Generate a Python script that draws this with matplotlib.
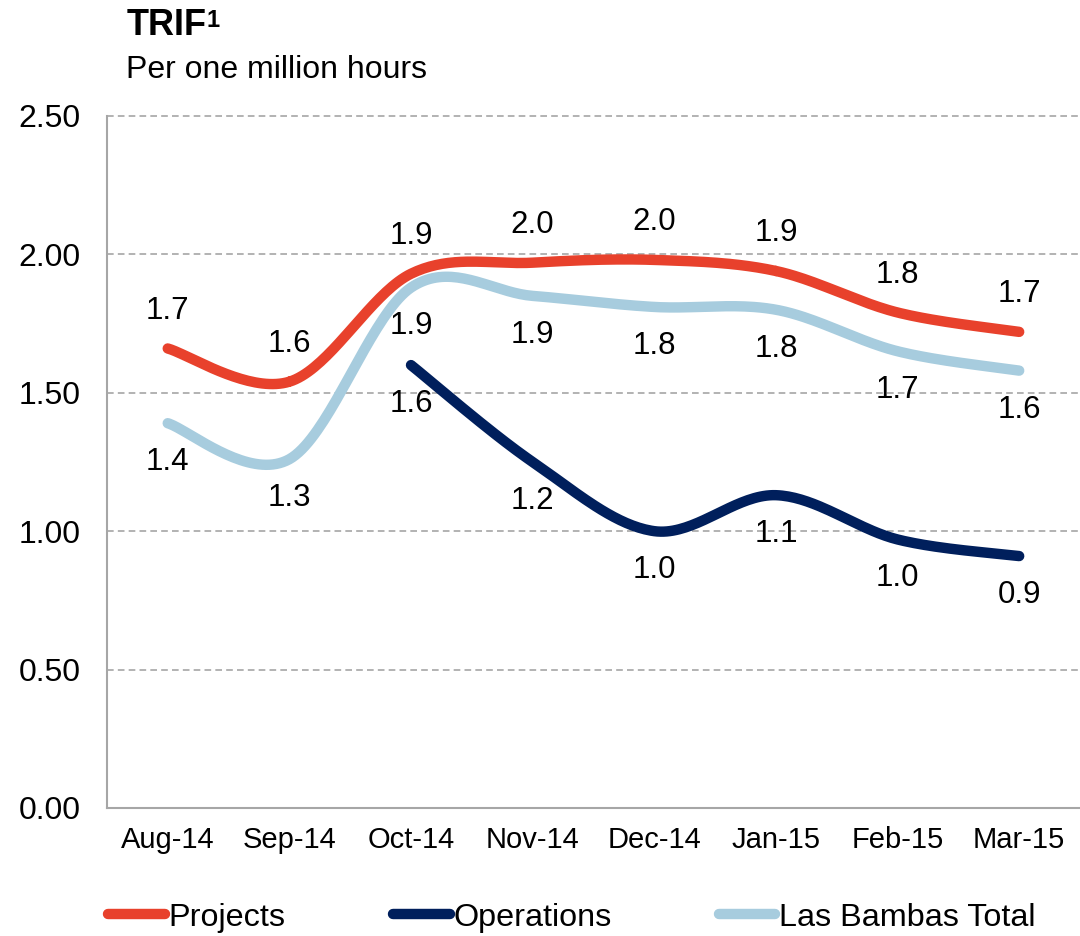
import numpy as np
import matplotlib.pyplot as plt

plt.rcParams['font.family'] = ['Liberation Sans', 'DejaVu Sans']

# Daten
monate = ['Aug-14', 'Sep-14', 'Oct-14', 'Nov-14', 'Dec-14', 'Jan-15', 'Feb-15', 'Mar-15']
projects = [1.66, 1.54, 1.93, 1.97, 1.98, 1.94, 1.79, 1.72]
operations = [None, None, 1.60, 1.25, 1.00, 1.13, 0.97, 0.91]
las_bambas = [1.39, 1.26, 1.88, 1.85, 1.81, 1.80, 1.65, 1.58]

proj_labels = ['1.7', '1.6', '1.9', '2.0', '2.0', '1.9', '1.8', '1.7']
oper_labels = [None, None, '1.6', '1.2', '1.0', '1.1', '1.0', '0.9']
lb_labels = ['1.4', '1.3', '1.9', '1.9', '1.8', '1.8', '1.7', '1.6']

rot = '#E8412C'
navy = '#001F5C'
hellblau = '#A7CCDE'


def glatt(xs, ys, n=40):
    # Catmull-Rom Glaettung wie in Excel
    xs = np.asarray(xs, float)
    ys = np.asarray(ys, float)
    px = np.concatenate([[xs[0]], xs, [xs[-1]]])
    py = np.concatenate([[ys[0]], ys, [ys[-1]]])
    outx, outy = [], []
    t = np.linspace(0, 1, n)
    for i in range(1, len(px) - 2):
        p0, p1, p2, p3 = py[i - 1], py[i], py[i + 1], py[i + 2]
        q0, q1, q2, q3 = px[i - 1], px[i], px[i + 1], px[i + 2]
        fy = 0.5 * (2 * p1 + (-p0 + p2) * t + (2 * p0 - 5 * p1 + 4 * p2 - p3) * t**2
                    + (-p0 + 3 * p1 - 3 * p2 + p3) * t**3)
        fx = 0.5 * (2 * q1 + (-q0 + q2) * t + (2 * q0 - 5 * q1 + 4 * q2 - q3) * t**2
                    + (-q0 + 3 * q1 - 3 * q2 + q3) * t**3)
        outx.extend(fx)
        outy.extend(fy)
    return np.array(outx), np.array(outy)


fig = plt.figure(figsize=(10.8, 9.36), dpi=100)
ax = fig.add_axes([0.099, 0.1368, 0.901, 0.7393])

x = np.arange(len(monate))

serien = [
    (projects, proj_labels, rot, 'Projects', 27),
    (operations, oper_labels, navy, 'Operations', -28),
    (las_bambas, lb_labels, hellblau, 'Las Bambas Total', -28),
]

for werte, labels, farbe, name, versatz in serien:
    xi = [i for i, v in zip(x, werte) if v is not None]
    yi = [v for v in werte if v is not None]
    gx, gy = glatt(xi, yi)
    ax.plot(gx, gy, color=farbe, lw=7.5, solid_capstyle='round', label=name, zorder=3)
    for i, v, lab in zip(x, werte, labels):
        if v is None:
            continue
        ax.annotate(lab, (i, v), xytext=(0, versatz), textcoords='offset points',
                    ha='center', va='center', fontsize=22.5, color='black')

ax.set_xlim(-0.5, 7.5)
ax.set_ylim(0, 2.5)
ax.set_xticks(x)
ax.set_xticklabels(monate, fontsize=21)
ax.set_yticks(np.arange(0, 2.51, 0.5))
ax.set_yticklabels(['%.2f' % v for v in np.arange(0, 2.51, 0.5)], fontsize=23)
ax.tick_params(length=0, axis='y', pad=19)
ax.tick_params(length=0, axis='x', pad=13)

for y in [0.5, 1.0, 1.5, 2.0, 2.5]:
    ax.axhline(y, color='#A6A6A6', lw=1.2, ls=(0, (4, 2.5)), zorder=1, clip_on=False)

for s in ['top', 'right']:
    ax.spines[s].set_visible(False)
for s in ['left', 'bottom']:
    ax.spines[s].set_color('#A6A6A6')
    ax.spines[s].set_linewidth(1.5)

# Titel mit Hochzahl
titel = fig.text(0.117, 0.9626, 'TRIF', fontsize=26, fontweight='bold', va='baseline')
fig.canvas.draw()
bb = titel.get_window_extent().transformed(fig.transFigure.inverted())
fig.text(bb.x1 + 0.0005, 1 - 9 / 936, '1', fontsize=17, fontweight='bold',
         va='top', ha='left')
fig.text(0.117, 0.917, 'Per one million hours', fontsize=23, va='baseline')

# Legende
fig.legend(loc='lower left', bbox_to_anchor=(0.097, 0.0), ncol=3, frameon=False,
           fontsize=23.3, handlelength=1.76, handletextpad=0.12, columnspacing=3.3,
           borderpad=0.1, borderaxespad=0)

plt.savefig('out.png')
